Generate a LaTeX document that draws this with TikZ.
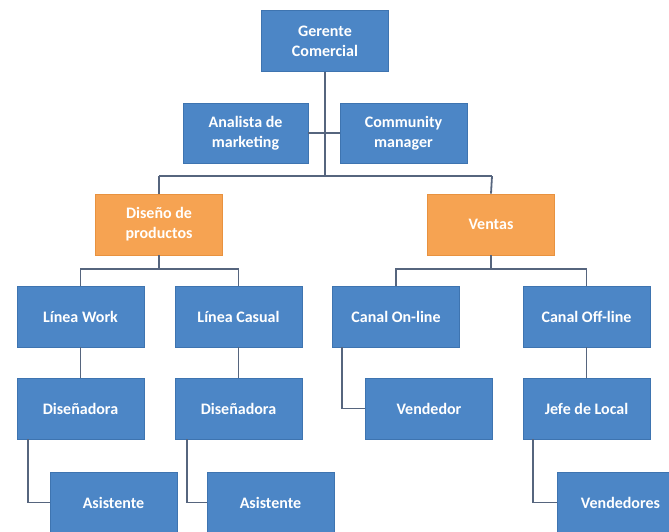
\documentclass[tikz,border=0pt]{standalone}
\usepackage{fontspec}
\setmainfont{Carlito}
\definecolor{boxblue}{HTML}{4C86C6}
\definecolor{boxblueedge}{HTML}{3E74B0}
\definecolor{boxorange}{HTML}{F6A352}
\definecolor{boxorangeedge}{HTML}{E8923F}
\definecolor{linecol}{HTML}{56657E}
\begin{document}
\begin{tikzpicture}[x=1pt,y=-1pt,
  box/.style={draw=boxblueedge,fill=boxblue,line width=0.8pt,text=white,
    minimum width=127pt,minimum height=61pt,inner sep=2pt,align=center,
    font=\fontsize{16}{20}\selectfont\bfseries},
  obox/.style={box,draw=boxorangeedge,fill=boxorange},
  conn/.style={draw=linecol,line width=1.8pt}]
\useasboundingbox (0,0) rectangle (669,531);
\begin{scope}
\clip (0,0) rectangle (669,531);
\coordinate (hl) at (159,176);
\coordinate (hr) at (492,176);
\node[box] (g) at (325,41) {Gerente\\Comercial};
\node[box,minimum width=125pt,minimum height=60pt] (an) at (245.5,133) {Analista de\\marketing};
\node[box,minimum height=60pt] (cm) at (403.5,133) {Community\\manager};
\node[obox] (dp) at (159,224.5) {Diseño de\\productos};
\node[obox] (ve) at (491,224.5) {Ventas};
\node[box] (lw) at (80.5,316.5) {Línea Work};
\node[box] (lc) at (238.5,316.5) {Línea Casual};
\node[box] (co) at (396,316.5) {Canal On-line};
\node[box] (cf) at (586.5,316.5) {Canal Off-line};
\node[box] (d1) at (80.5,408.5) {Diseñadora};
\node[box] (d2) at (238.5,408.5) {Diseñadora};
\node[box] (vd) at (429,408.5) {Vendedor};
\node[box] (jl) at (586.5,408.5) {Jefe de Local};
\node[box] (a1) at (113.5,502.5) {Asistente};
\node[box] (a2) at (270.5,502.5) {Asistente};
\node[box] (vs) at (620.5,502.5) {Vendedores};
\coordinate (dj) at (159,269);
\coordinate (vj) at (491,269);
\draw[conn] (g.south) -- (g.south |- hl);
\draw[conn] (hl) -- (hr);
\draw[conn] (hl) -- (dp.north);
\draw[conn] (hr) -- (ve.north);
\draw[conn] (an.east) -- (cm.west);
\draw[conn] (dp.south) -- (dj);
\draw[conn] (lw.north) |- (dj) -| (lc.north);
\draw[conn] (ve.south) -- (vj);
\draw[conn] (co.north) |- (vj) -| (cf.north);
\draw[conn] (lw.south) -- (d1.north);
\draw[conn] (lc.south) -- (d2.north);
\draw[conn] (cf.south) -- (jl.north);
\draw[conn] ([xshift=10pt]co.south west) |- (vd.west);
\draw[conn] ([xshift=11pt]d1.south west) |- (a1.west);
\draw[conn] ([xshift=12pt]d2.south west) |- (a2.west);
\draw[conn] ([xshift=10pt]jl.south west) |- (vs.west);
\end{scope}
\end{tikzpicture}
\end{document}
